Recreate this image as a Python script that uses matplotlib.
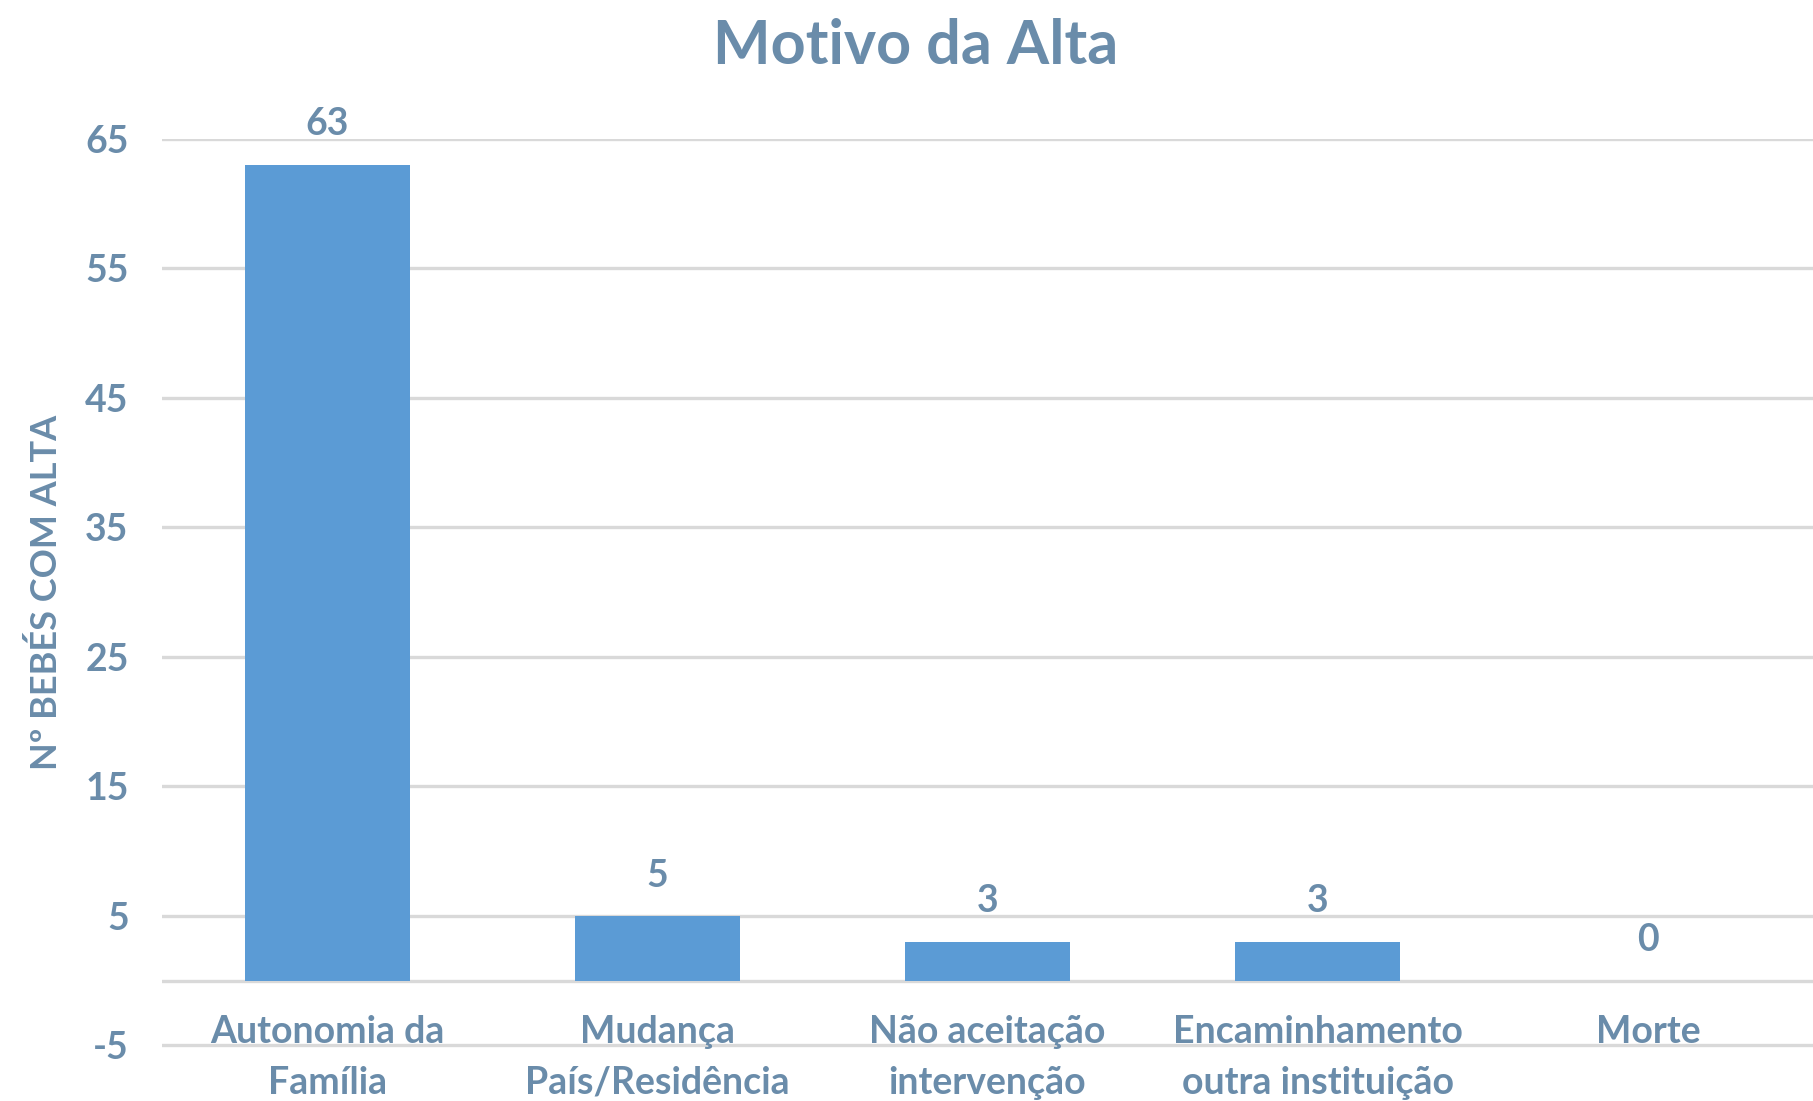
import matplotlib
matplotlib.use("Agg")
import matplotlib.pyplot as plt

categories = ["Autonomia da\nFamília", "Mudança\nPaís/Residência", "Não aceitação\nintervenção",
              "Encaminhamento\noutra instituição", "Morte"]
values = [63, 5, 3, 3, 0]
yticks = [-5, 5, 15, 25, 35, 45, 55, 65]

TXT = "#6A8CAA"
BAR = "#5B9BD5"
GRID = "#D9D9D9"
FONT = ["Lato", "DejaVu Sans"]

plt.rcParams['font.family'] = FONT
plt.rcParams['axes.unicode_minus'] = False
fig = plt.figure(figsize=(18.13, 11.01), dpi=100)
ax = fig.add_axes([162/1813, 0.0, 1 - 162/1813, (1101 - 138.8)/1101])

x = list(range(len(categories)))
ax.bar(x, values, width=0.5, color=BAR, zorder=3)
ax.set_xlim(-0.5, 4.5)
ax.set_ylim(-9.3, 65)
ax.set_yticks(yticks)
ax.yaxis.grid(True, color=GRID, linewidth=2.4, zorder=0)
ax.axhline(0, color=GRID, linewidth=2.4, zorder=1)
ax.set_xticks([])
ax.tick_params(axis='y', length=0, pad=24, labelsize=27, labelcolor=TXT)
for lbl in ax.get_yticklabels():
    lbl.set_fontweight('bold')
for s in ax.spines.values():
    s.set_visible(False)

for xi, v in zip(x, values):
    ax.annotate(str(v), (xi, v), xytext=(0, 29), textcoords='offset points',
                ha='center', va='center', fontsize=27, fontweight='bold', color=TXT)

for xi, cat in zip(x, categories):
    lines = cat.split("\n")
    for j, line in enumerate(lines):
        ax.text(xi, -3.97 - 3.94 * j, line, ha='center', va='center', fontsize=27,
                fontweight='bold', color=TXT, zorder=4)

fig.text(916/1813, 1 - 46/1101, "Motivo da Alta", ha='center', va='center',
         fontsize=44, fontweight='bold', color=TXT)
fig.text(46/1813, 1 - 592/1101, "Nº BEBÉS COM ALTA", ha='center', va='center',
         rotation=90, fontsize=26, fontweight='bold', color=TXT)

fig.savefig("out.png", dpi=100)
